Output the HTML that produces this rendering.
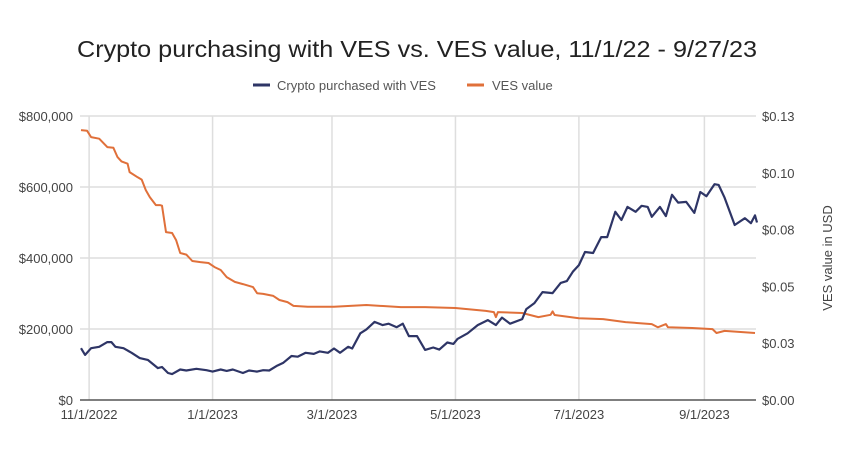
<!DOCTYPE html>
<html><head><meta charset="utf-8"><style>
html,body{margin:0;padding:0;background:#fff;}
svg{display:block;font-family:"Liberation Sans",sans-serif;}
</style></head><body>
<svg id="chart" width="850" height="462">
<text x="417" y="57" text-anchor="middle" font-size="23" fill="#222" textLength="680" lengthAdjust="spacingAndGlyphs">Crypto purchasing with VES vs. VES value, 11/1/22 - 9/27/23</text>
<g>
<line x1="253" y1="85" x2="270" y2="85" stroke="#2e3566" stroke-width="3"/>
<text x="277" y="90" font-size="13" fill="#555">Crypto purchased with VES</text>
<line x1="467" y1="85" x2="484" y2="85" stroke="#e0703a" stroke-width="3"/>
<text x="492" y="90" font-size="13" fill="#555">VES value</text>
</g>
<g id="grid"></g><g id="axes"></g><g id="series"></g>
<text transform="translate(832,258) rotate(-90)" text-anchor="middle" font-size="13" fill="#444">VES value in USD</text>
</svg>
<script>
const xTickDays=[0,61,120,181,242,304];
const xTickLabels=["11/1/2022","1/1/2023","3/1/2023","5/1/2023","7/1/2023","9/1/2023"];
const leftTicks=[0,200000,400000,600000,800000];
const leftTickLabels=["$0","$200,000","$400,000","$600,000","$800,000"];
const rightTicks=[0,0.025,0.05,0.075,0.1,0.125];
const rightTickLabels=["$0.00","$0.03","$0.05","$0.08","$0.10","$0.13"];
const cryptoDays=[-4,-2,1,5,9,11,13,17,21,25,29,34,36,39,41,45,48,53,58,61,65,68,71,76,79,83,86,89,93,96,100,103,107,111,114,118,121,124,128,130,134,137,141,145,148,152,155,158,162,166,170,173,177,180,182,187,192,197,201,204,208,214,216,220,224,229,233,236,239,242,245,249,253,256,260,263,266,270,273,276,278,282,285,288,291,295,299,302,305,309,311,314,319,324,327,329,330];
const cryptoValues=[146,127,146,150,163,163,150,146,133,118,113,90,93,76,73,86,83,88,84,80,86,82,86,76,83,80,84,83,97,105,124,122,133,130,137,133,145,133,150,145,188,199,220,211,215,205,215,180,180,141,148,142,162,158,172,188,211,225,211,232,215,228,256,273,304,301,330,335,361,380,417,414,459,459,530,507,544,530,547,544,516,544,518,578,556,558,527,586,574,608,606,570,493,512,498,520,500].map(v=>v*1000);
const vesDays=[-4,-1,1,5,9,12,14,16,19,20,24,26,28,30,33,35,36,38,41,43,45,48,51,55,59,62,65,68,72,76,81,83,86,91,94,98,101,108,121,137,154,166,181,196,200,201,202,214,222,228,229,230,242,254,265,278,281,285,286,298,308,310,314,329];
const vesValues=[0.1188,0.1185,0.1157,0.115,0.1113,0.111,0.107,0.105,0.104,0.1003,0.098,0.097,0.0924,0.0893,0.0858,0.0858,0.0855,0.0739,0.0735,0.0704,0.0647,0.064,0.0612,0.0607,0.0603,0.0585,0.0572,0.0541,0.052,0.051,0.0497,0.047,0.0467,0.0458,0.044,0.0431,0.0414,0.041,0.041,0.0418,0.0409,0.0409,0.0405,0.0392,0.0387,0.0365,0.0387,0.0383,0.0365,0.0375,0.039,0.0374,0.036,0.0356,0.0343,0.0334,0.032,0.0334,0.032,0.0317,0.0312,0.0295,0.0304,0.0295];
const NS="http://www.w3.org/2000/svg";
const X0=80,X1=756,Y0=400,Y1=116,D0=-4.5,D1=329.5;
const x=d=>X0+(d-D0)/(D1-D0)*(X1-X0);
const yL=v=>Y0-v/800000*(Y0-Y1);
const yR=v=>Y0-v/0.125*(Y0-Y1);
function mk(tag,attrs,parent,txt){const e=document.createElementNS(NS,tag);for(const k in attrs)e.setAttribute(k,attrs[k]);if(txt!==undefined)e.textContent=txt;document.getElementById(parent).appendChild(e);return e;}
leftTicks.forEach((t,i)=>{
 if(t>0){const g=mk('line',{x1:X0,x2:X1,y1:yL(t),y2:yL(t),stroke:'#dedede','stroke-width':1.5},'grid');
 
 }
 const l=mk('text',{x:73,y:yL(t)+5,'text-anchor':'end','font-size':13,fill:'#444'},'axes',leftTickLabels[i]);
 
 
});
rightTicks.forEach((t,i)=>{
 const l=mk('text',{x:762,y:yR(t)+5,'font-size':13,fill:'#444'},'axes',rightTickLabels[i]);
 
 
});
xTickDays.forEach((d,i)=>{
 const g=mk('line',{x1:x(d),x2:x(d),y1:Y1,y2:Y0,stroke:'#dedede','stroke-width':1.5},'grid');
 
 
 const l=mk('text',{x:x(d),y:419,'text-anchor':'middle','font-size':13,fill:'#444'},'axes',xTickLabels[i]);
 
 
});
const ax=mk('line',{x1:X0,x2:X1,y1:Y0,y2:Y0,stroke:'#555','stroke-width':1.5},'axes');


const ves=mk('polyline',{points:vesDays.map((d,i)=>x(d).toFixed(1)+','+yR(vesValues[i]).toFixed(1)).join(' '),fill:'none',stroke:'#e0703a','stroke-width':2,'stroke-linejoin':'round'},'series');


const cr=mk('polyline',{points:cryptoDays.map((d,i)=>x(d).toFixed(1)+','+yL(cryptoValues[i]).toFixed(1)).join(' '),fill:'none',stroke:'#2e3566','stroke-width':2.2,'stroke-linejoin':'round'},'series');


</script>
</body></html>
